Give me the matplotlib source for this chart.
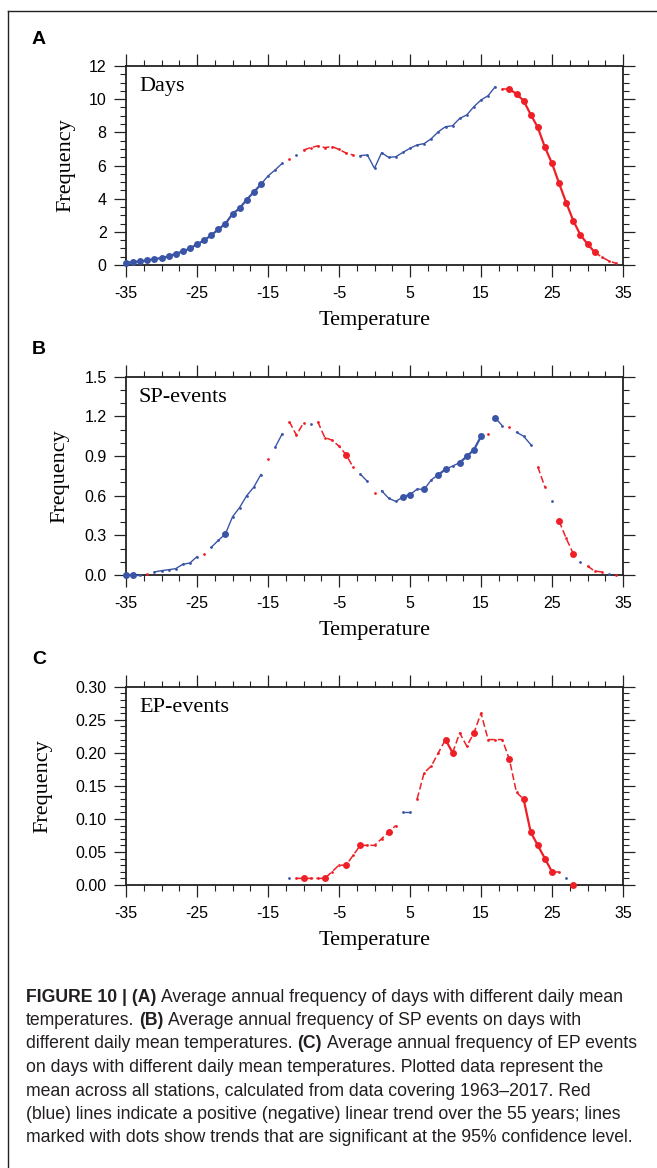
import matplotlib
matplotlib.use('Agg')
import matplotlib.pyplot as plt
from matplotlib.ticker import MultipleLocator, FormatStrFormatter
from matplotlib.lines import Line2D

# ---------------- data ----------------
temperature = list(range(-35, 35))

days_freq = [0.14, 0.18, 0.22, 0.28, 0.36, 0.42, 0.52, 0.68, 0.82, 1.00,
             1.25, 1.49, 1.79, 2.15, 2.49, 3.08, 3.42, 3.94, 4.40, 4.86,
             5.37, 5.73, 6.13,
             6.41,
             6.65,
             6.93, 7.08, 7.18, 7.08, 7.14, 6.97, 6.75, 6.63,
             6.60, 6.63, 5.83, 6.77, 6.49, 6.53, 6.79, 7.04, 7.24, 7.32,
             7.62, 8.04, 8.34, 8.40, 8.84, 9.05, 9.55, 9.95, 10.21, 10.75,
             10.61,
             10.61, 10.31, 9.91, 9.07, 8.30, 7.10, 6.13, 4.92, 3.76, 2.67,
             1.81, 1.27, 0.78,
             0.48, 0.25, 0.10]
# trend code per point: R/B significant positive/negative, r/b not significant, '.' none
days_trend = list("BBBBBBBBBBBBBBBBBBBB" "bbb" "r" "b" "rrrrrrrr"
                  "bbbbbbbbbbbbbbbbbbbb" "r" "RRRRRRRRRRRRR" "rrr")

sp_freq = [0.0, 0.0, 0.0, 0.01,
           0.023, 0.033, 0.040, 0.048, 0.081, 0.091, 0.139,
           0.161,
           0.209, 0.262, 0.31,
           0.44, 0.51, 0.60, 0.665, 0.76,
           0.877, 0.965, 1.068,
           1.161, 1.058, 1.15, 1.14,
           1.16, 1.04, 1.02, 0.975, 0.91, 0.815,
           0.763, 0.708, 0.62,
           0.637, 0.58, 0.557, 0.59, 0.607, 0.65, 0.647, 0.72, 0.758, 0.80,
           0.824, 0.85, 0.897, 0.947, 1.048,
           1.068, 1.189, 1.129, 1.118, 1.08, 1.05, 0.987,
           0.819, 0.665, 0.559, 0.408, 0.277, 0.161, 0.098,
           0.068, 0.03, 0.023, 0.01, 0.0]
sp_trend = list("BBbr" "bbbbbbb" "r" "bbB" "bbbbb" "rbb" "rrrb" "rrrrRr" "bbr"
                "bbbBBbBbBBbBBBB" "rBbrbbb" "rrbRrRb" "rrrbr")

ep_freq = [0.0] * 23 + [
    0.01, 0.01, 0.01, 0.01, 0.01, 0.01, 0.02, 0.03, 0.03, 0.045,
    0.06, 0.06, 0.06, 0.07, 0.08, 0.09, 0.11, 0.11, 0.13, 0.17,
    0.18, 0.20, 0.22, 0.20, 0.23, 0.21, 0.23, 0.26, 0.22, 0.22,
    0.22, 0.19, 0.14, 0.13, 0.08, 0.06, 0.04, 0.02, 0.02, 0.01,
    0.00] + [0.0] * 6
ep_trend = list("." * 23 + "brRrrRrrRrRrrrRrbbrrrrRRrrRrrrrRrRRRRRrbR" + "." * 6)

panel_letters = ["A", "B", "C"]
panel_names = ["Days", "SP-events", "EP-events"]
x_ticks = [-35, -25, -15, -5, 5, 15, 25, 35]

caption_lines = [
    [("FIGURE 10 | (A)", True), ("Average annual frequency of days with different daily mean", False)],
    [("temperatures.", False), ("(B)", True), ("Average annual frequency of SP events on days with", False)],
    [("different daily mean temperatures.", False), ("(C)", True), ("Average annual frequency of EP events", False)],
    [("on days with different daily mean temperatures. Plotted data represent the", False)],
    [("mean across all stations, calculated from data covering 1963\u20132017. Red", False)],
    [("(blue) lines indicate a positive (negative) linear trend over the 55 years; lines", False)],
    [("marked with dots show trends that are significant at the 95% confidence level.", False)],
]

# ---------------- style ----------------
W, H = 657, 1168
RED = '#ee1f26'
BLUE = '#3b55a6'
SANS = 'Liberation Sans'
SERIF = 'Liberation Serif'
plt.rcParams['font.family'] = [SANS, 'DejaVu Sans']
plt.rcParams['axes.unicode_minus'] = False

fig = plt.figure(figsize=(W / 100, H / 100), dpi=100)


def fx(px):
    return px / W


def fy(py):
    return 1 - py / H


# figure frame lines
fig.add_artist(Line2D([fx(8), fx(W)], [fy(11), fy(11)], color='#222222', lw=1.0))
fig.add_artist(Line2D([fx(8), fx(8)], [fy(11), fy(H)], color='#222222', lw=1.0))

panels = [
    dict(freq=days_freq, trend=days_trend, top=66, bottom=265, ymax=12, major=2, minor=0.5,
         fmt='%d', ylab_x=66),
    dict(freq=sp_freq, trend=sp_trend, top=376.7, bottom=575, ymax=1.5, major=0.3, minor=0.1,
         fmt='%.1f', ylab_x=60),
    dict(freq=ep_freq, trend=ep_trend, top=686.7, bottom=885, ymax=0.30, major=0.05, minor=0.01,
         fmt='%.2f', ylab_x=43),
]

AX_L, AX_R = 126, 623

for k, p in enumerate(panels):
    ax = fig.add_axes([fx(AX_L), fy(p['bottom']), (AX_R - AX_L) / W, (p['bottom'] - p['top']) / H])
    ax.set_xlim(-35, 35)
    ax.set_ylim(0, p['ymax'])
    ax.set_xticks(x_ticks)
    ax.xaxis.set_minor_locator(MultipleLocator(2.5))
    ax.yaxis.set_major_locator(MultipleLocator(p['major']))
    ax.yaxis.set_minor_locator(MultipleLocator(p['minor']))
    ax.yaxis.set_major_formatter(FormatStrFormatter(p['fmt']))
    ax.tick_params(which='both', direction='out', top=True, right=True,
                   labeltop=False, labelright=False, color='#222222')
    ax.tick_params(which='major', length=8.5, width=0.9, labelsize=11.5)
    ax.tick_params(which='minor', length=4.3, width=0.8)
    ax.tick_params(axis='x', which='major', pad=6.5)
    ax.tick_params(axis='y', which='major', pad=5.5)
    for s in ax.spines.values():
        s.set_linewidth(1.3)
        s.set_color('#222222')

    freq = p['freq']
    trend = p['trend']
    n = len(temperature)

    def seg_key(i):
        a, b = trend[i], trend[i + 1]
        if a == '.' or b == '.' or a.lower() != b.lower():
            return None
        return (a.lower(), a.isupper() and b.isupper())

    runs = []
    cur = None
    for i in range(n - 1):
        key = seg_key(i)
        if key is None:
            cur = None
            continue
        if cur is not None and cur[0] == key and cur[2] == i:
            cur[2] = i + 1
        else:
            cur = [key, i, i + 1]
            runs.append(cur)
    for key, i0, i1 in runs:
        col = RED if key[0] == 'r' else BLUE
        xs = temperature[i0:i1 + 1]
        ys = freq[i0:i1 + 1]
        if key[1]:
            ax.plot(xs, ys, color=col, lw=1.6, solid_capstyle='round', clip_on=False, zorder=3)
        elif key[0] == 'r':
            ax.plot(xs, ys, color=col, lw=1.1, dashes=(4.5, 2.0), clip_on=False, zorder=3)
        else:
            ax.plot(xs, ys, color=col, lw=1.0, clip_on=False, zorder=3)

    for i in range(n):
        t = trend[i]
        if t == '.':
            continue
        col = RED if t.lower() == 'r' else BLUE
        if t.isupper():
            ax.plot([temperature[i]], [freq[i]], 'o', color=col, ms=5.0, mew=0, clip_on=False, zorder=4)
        else:
            ax.plot([temperature[i]], [freq[i]], 'o', color=col, ms=2.0, mew=0, clip_on=False, zorder=4)

    fig.text(fx(AX_L + 13), fy(p['top'] + 21), panel_names[k], family=SERIF, fontsize=16,
             ha='left', va='center')
    fig.text(fx(32), fy(p['top'] - 27), panel_letters[k], family=SANS, fontsize=14,
             fontweight='bold', ha='left', va='center')
    fig.text(fx(p['ylab_x']), fy((p['top'] + p['bottom']) / 2), 'Frequency', family=SERIF,
             fontsize=16, rotation=90, ha='center', va='center')
    fig.text(fx((AX_L + AX_R) / 2), fy(p['bottom'] + 55), 'Temperature', family=SERIF,
             fontsize=16, ha='center', va='center')

# ---------------- caption ----------------
fig.canvas.draw()
renderer = fig.canvas.get_renderer()
CAP_COLOR = '#231f20'


def text_width(s, size, bold):
    t = fig.text(0, 0, s, fontsize=size, fontweight='bold' if bold else 'normal', family=SANS)
    w = t.get_window_extent(renderer).width
    t.remove()
    return w


def line_width(parts, size):
    sp = text_width('x x', size, False) - text_width('xx', size, False)
    w = sum(text_width(s, size, b) for s, b in parts)
    return w + sp * (len(parts) - 1)


base = 10.0
target = 600.0
cap_size = base * target / line_width(caption_lines[0], base)
space_w = text_width('x x', cap_size, False) - text_width('xx', cap_size, False)

cap_x0 = 26
cap_y0 = 997
cap_dy = 23.5
for j, parts in enumerate(caption_lines):
    x = cap_x0
    y = cap_y0 + j * cap_dy
    for s, b in parts:
        fig.text(fx(x), fy(y), s, fontsize=cap_size, fontweight='bold' if b else 'normal',
                 family=SANS, ha='left', va='center', color=CAP_COLOR)
        x += text_width(s, cap_size, b) + space_w

fig.savefig('out.png', dpi=100)
